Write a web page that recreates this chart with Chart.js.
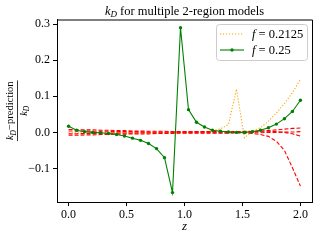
<!DOCTYPE html>
<html>
<head>
<meta charset="utf-8">
<script src="https://cdn.jsdelivr.net/npm/chart.js@4.4.0/dist/chart.umd.min.js"></script>
<style>
  html, body { margin: 0; padding: 0; background: #fff; }
  #wrap { width: 320px; height: 240px; }
</style>
</head>
<body>
<div id="wrap"><canvas id="chart" width="320" height="240"></canvas></div>
<script>
// z grid (30 samples from 0 to 2)
const zValues = [0, 0.0690, 0.1379, 0.2069, 0.2759, 0.3448, 0.4138, 0.4828, 0.5517, 0.6207,
  0.6897, 0.7586, 0.8276, 0.8966, 0.9655, 1.0345, 1.1034, 1.1724, 1.2414, 1.3103,
  1.3793, 1.4483, 1.5172, 1.5862, 1.6552, 1.7241, 1.7931, 1.8621, 1.9310, 2.0];

// f = 0.2125 (orange, dotted)
const f2125 = [-0.001, -0.001, -0.001, -0.001, -0.001, -0.001, -0.001, -0.001, -0.001, -0.001,
  -0.001, -0.001, -0.001, 0.0, 0.0, 0.0, 0.001, 0.002, 0.004, 0.010,
  0.022, 0.120, -0.015, 0.004, 0.013, 0.031, 0.054, 0.080, 0.110, 0.147];

// f = 0.25 (green, with markers)
const f25 = [0.017, 0.006, 0.002, 0.0, -0.001, -0.003, -0.006, -0.010, -0.016, -0.022,
  -0.031, -0.045, -0.070, -0.167, 0.290, 0.063, 0.028, 0.015, 0.006, 0.003,
  0.001, 0.0, 0.0, 0.002, 0.006, 0.013, 0.023, 0.038, 0.058, 0.089];

// other models (red, dashed, unlabeled)
const redA = [0.008, 0.008, 0.007, 0.007, 0.006, 0.006, 0.005, 0.005, 0.004, 0.004,
  0.003, 0.003, 0.003, 0.002, 0.002, 0.002, 0.002, 0.002, 0.002, 0.002,
  0.002, 0.002, 0.003, 0.003, 0.004, 0.005, 0.007, 0.009, 0.011, 0.012];
const redB = [0.004, 0.004, 0.004, 0.003, 0.003, 0.003, 0.002, 0.002, 0.002, 0.002,
  0.001, 0.001, 0.001, 0.001, 0.001, 0.001, 0.001, 0.001, 0.001, 0.001,
  0.001, 0.001, 0.002, 0.002, 0.003, 0.003, 0.002, 0.0, -0.004, -0.010];
const redC = [-0.004, -0.004, -0.003, -0.003, -0.003, -0.002, -0.002, -0.002, -0.002, -0.001,
  -0.001, -0.001, -0.001, -0.001, -0.001, -0.001, -0.001, -0.001, -0.001, -0.001,
  -0.001, -0.001, -0.002, -0.003, -0.006, -0.011, -0.025, -0.050, -0.098, -0.149];
const redD = [-0.008, -0.008, -0.007, -0.007, -0.006, -0.006, -0.005, -0.005, -0.004, -0.004,
  -0.004, -0.003, -0.003, -0.003, -0.002, -0.002, -0.002, -0.002, -0.002, -0.002,
  -0.002, -0.001, -0.001, -0.001, -0.001, 0.0, 0.0, 0.001, 0.001, 0.002];

const xTicks = [0, 0.5, 1.0, 1.5, 2.0];
const yTicks = [-0.1, 0.0, 0.1, 0.2, 0.3];
const legendValues = ['0.2125', '0.25'];

const SERIF = '"Liberation Serif", "Times New Roman", serif';

function pts(ys) {
  return zValues.map((z, i) => ({ x: z, y: ys[i] }));
}

// text pieces: [text, kind] with kind 'n' normal, 'i' italic, 's' italic subscript
function fontFor(kind, size) {
  if (kind === 'i') return 'italic ' + size + 'px ' + SERIF;
  if (kind === 's') return 'italic ' + (size * 0.72).toFixed(1) + 'px ' + SERIF;
  return size + 'px ' + SERIF;
}
function richWidth(ctx, parts, size) {
  let w = 0;
  parts.forEach(p => {
    ctx.font = fontFor(p[1], size);
    w += ctx.measureText(p[0]).width;
  });
  return w;
}
function drawRich(ctx, parts, x, y, size, align) {
  let w = richWidth(ctx, parts, size);
  let cx = align === 'center' ? x - w / 2 : x;
  ctx.textAlign = 'left';
  ctx.textBaseline = 'alphabetic';
  parts.forEach(p => {
    ctx.font = fontFor(p[1], size);
    const dy = p[1] === 's' ? size * 0.22 : 0;
    ctx.fillText(p[0], cx, y + dy);
    cx += ctx.measureText(p[0]).width;
  });
  return w;
}

const decorPlugin = {
  id: 'decor',
  afterDraw(chart) {
    const ctx = chart.ctx;
    const a = chart.chartArea;
    ctx.save();
    ctx.fillStyle = '#000';
    ctx.strokeStyle = '#000';

    // frame top and right
    ctx.lineWidth = 1;
    ctx.beginPath();
    ctx.moveTo(a.left, a.top + 0.5);
    ctx.lineTo(a.right + 0.5, a.top + 0.5);
    ctx.lineTo(a.right + 0.5, a.bottom);
    ctx.stroke();

    const cx = (a.left + a.right) / 2;
    // title
    drawRich(ctx, [['k', 'i'], ['D', 's'], [' for multiple 2-region models', 'n']], cx, 14.5, 12.5, 'center');
    // x label
    drawRich(ctx, [['z', 'i']], cx, 230, 13, 'center');

    // y label as a fraction
    ctx.save();
    ctx.translate(17.5, (a.top + a.bottom) / 2);
    ctx.rotate(-Math.PI / 2);
    const num = [['k', 'i'], ['D', 's'], ['\u2212prediction', 'n']];
    const nw = drawRich(ctx, num, 0, -4.2, 10.5, 'center');
    ctx.lineWidth = 0.8;
    ctx.beginPath();
    ctx.moveTo(-nw / 2 - 1, 0);
    ctx.lineTo(nw / 2 + 1, 0);
    ctx.stroke();
    drawRich(ctx, [['k', 'i'], ['D', 's']], 0, 9.5, 10.5, 'center');
    ctx.restore();

    // legend
    const bx = 216, by = 24, bw = 91, bh = 36;
    ctx.fillStyle = 'rgba(255,255,255,0.8)';
    ctx.strokeStyle = '#cccccc';
    ctx.lineWidth = 1;
    ctx.beginPath();
    ctx.roundRect(bx + 0.5, by + 0.5, bw, bh, 3);
    ctx.fill();
    ctx.stroke();

    const rows = [
      { y: 34, ds: chart.data.datasets[0] },
      { y: 50, ds: chart.data.datasets[1] }
    ];
    rows.forEach((r, i) => {
      ctx.strokeStyle = r.ds.borderColor;
      ctx.lineWidth = 1.1;
      ctx.setLineDash(r.ds.borderDash || []);
      ctx.beginPath();
      ctx.moveTo(220, r.y);
      ctx.lineTo(244, r.y);
      ctx.stroke();
      ctx.setLineDash([]);
      if (r.ds.pointRadius > 0) {
        ctx.fillStyle = r.ds.borderColor;
        ctx.beginPath();
        ctx.arc(232, r.y, r.ds.pointRadius, 0, Math.PI * 2);
        ctx.fill();
      }
      ctx.fillStyle = '#000';
      drawRich(ctx, [['f', 'i'], [' = ' + legendValues[i], 'n']], 252, r.y + 4, 12.5, 'left');
    });
    ctx.restore();
  }
};

function redSet(ys) {
  return {
    data: pts(ys),
    borderColor: '#ff0000',
    borderWidth: 1.1,
    borderDash: [4, 2],
    pointRadius: 0,
    order: 1
  };
}

const ctx = document.getElementById('chart');
new Chart(ctx, {
  type: 'line',
  data: {
    datasets: [
      {
        label: 'f = 0.2125',
        data: pts(f2125),
        borderColor: '#ffa500',
        borderWidth: 1.1,
        borderDash: [1.2, 1.8],
        pointRadius: 0,
        order: 2
      },
      {
        label: 'f = 0.25',
        data: pts(f25),
        borderColor: '#008000',
        backgroundColor: '#008000',
        borderWidth: 1.1,
        pointRadius: 1.7,
        pointBorderWidth: 0,
        pointBackgroundColor: '#008000',
        order: 0
      },
      redSet(redA),
      redSet(redB),
      redSet(redC),
      redSet(redD)
    ]
  },
  options: {
    responsive: false,
    animation: false,
    devicePixelRatio: 1,
    layout: { padding: { top: 19.5, right: 8, left: 0, bottom: 0 } },
    plugins: {
      legend: { display: false },
      title: { display: false },
      tooltip: { enabled: false }
    },
    scales: {
      x: {
        type: 'linear',
        min: -0.1,
        max: 2.1,
        afterBuildTicks: scale => { scale.ticks = xTicks.map(v => ({ value: v })); },
        afterFit: scale => { scale.height = 38; },
        ticks: {
          autoSkip: false,
          maxRotation: 0,
          padding: 2,
          color: '#000',
          font: { family: SERIF, size: 12 },
          callback: v => v.toFixed(1)
        },
        grid: { drawOnChartArea: false, drawTicks: true, tickLength: 4, color: '#000' },
        border: { color: '#000', width: 1 }
      },
      y: {
        type: 'linear',
        min: -0.193,
        max: 0.313,
        afterBuildTicks: scale => { scale.ticks = yTicks.map(v => ({ value: v })); },
        afterFit: scale => { scale.width = 57; },
        ticks: {
          autoSkip: false,
          padding: 3,
          color: '#000',
          font: { family: SERIF, size: 12 },
          callback: v => (v < -1e-9 ? '\u2212' : '') + Math.abs(v).toFixed(1)
        },
        grid: { drawOnChartArea: false, drawTicks: true, tickLength: 4, color: '#000' },
        border: { color: '#000', width: 1 }
      }
    }
  },
  plugins: [decorPlugin]
});
</script>
</body>
</html>
